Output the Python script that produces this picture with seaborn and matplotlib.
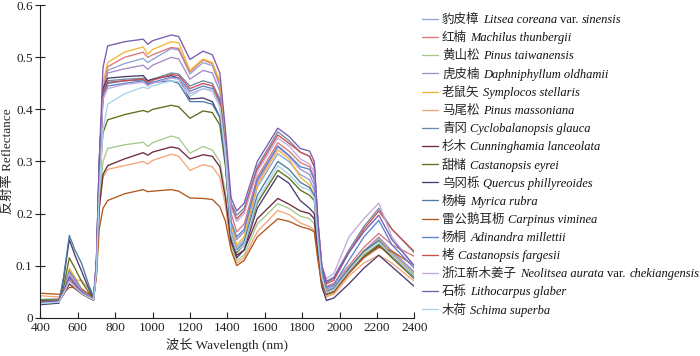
import numpy as np
import pandas as pd
import matplotlib
matplotlib.use("Agg")
import matplotlib.pyplot as plt
import seaborn as sns

wavelength = [400, 500, 525, 555, 585, 620, 660, 685, 700, 715, 735, 760, 850, 950, 975, 1000,
              1100, 1140, 1200, 1270, 1320, 1360, 1390, 1420, 1450, 1490, 1560, 1670, 1730, 1790,
              1840, 1865, 1885, 1905, 1930, 1970, 2050, 2130, 2210, 2280, 2400]

cn_names = ["豹皮樟", "红楠", "黄山松", "虎皮楠", "老鼠矢", "马尾松", "青冈", "杉木", "甜槠",
            "乌冈栎", "杨梅", "雷公鹅耳枥", "杨桐", "栲", "浙江新木姜子", "石栎", "木荷"]

# scientific names: alternating italic / upright parts
sci_names = [
    ["Litsea coreana", "var.", "sinensis"],
    ["Machilus thunbergii"],
    ["Pinus taiwanensis"],
    ["Daphniphyllum oldhamii"],
    ["Symplocos stellaris"],
    ["Pinus massoniana"],
    ["Cyclobalanopsis glauca"],
    ["Cunninghamia lanceolata"],
    ["Castanopsis eyrei"],
    ["Quercus phillyreoides"],
    ["Myrica rubra"],
    ["Carpinus viminea"],
    ["Adinandra millettii"],
    ["Castanopsis fargesii"],
    ["Neolitsea aurata", "var.", "chekiangensis"],
    ["Lithocarpus glaber"],
    ["Schima superba"],
]

colors = ["#8fa3d9", "#d9777a", "#a6c98a", "#a58ac6", "#f2b632", "#f4a576", "#6f89a8",
          "#6e2b3e", "#5e7018", "#4a3b6e", "#4d7aa0", "#b0581e", "#5b82cc", "#cc5050",
          "#c4a8dc", "#7b5bb0", "#a9d2ec"]

s01 = [0.030, 0.032, 0.050, 0.080, 0.066, 0.050, 0.040, 0.036, 0.10, 0.27, 0.43, 0.475, 0.488, 0.498, 0.490, 0.496, 0.517, 0.514, 0.468, 0.490, 0.484, 0.445, 0.34, 0.17, 0.135, 0.15, 0.25, 0.315, 0.30, 0.275, 0.265, 0.245, 0.15, 0.08, 0.052, 0.058, 0.09, 0.125, 0.152, 0.125, 0.085]
s02 = [0.028, 0.030, 0.046, 0.075, 0.062, 0.048, 0.039, 0.035, 0.10, 0.27, 0.44, 0.482, 0.50, 0.51, 0.50, 0.505, 0.519, 0.517, 0.472, 0.495, 0.488, 0.45, 0.345, 0.20, 0.165, 0.18, 0.27, 0.336, 0.32, 0.298, 0.29, 0.27, 0.17, 0.09, 0.06, 0.066, 0.10, 0.135, 0.162, 0.14, 0.118]
s03 = [0.033, 0.034, 0.048, 0.072, 0.060, 0.047, 0.038, 0.034, 0.09, 0.22, 0.30, 0.325, 0.332, 0.337, 0.329, 0.336, 0.349, 0.345, 0.316, 0.329, 0.322, 0.30, 0.24, 0.14, 0.11, 0.12, 0.18, 0.219, 0.21, 0.195, 0.19, 0.18, 0.12, 0.065, 0.042, 0.048, 0.085, 0.12, 0.142, 0.12, 0.08]
s04 = [0.029, 0.031, 0.050, 0.088, 0.072, 0.053, 0.041, 0.036, 0.10, 0.27, 0.43, 0.47, 0.478, 0.485, 0.477, 0.485, 0.50, 0.497, 0.458, 0.475, 0.47, 0.435, 0.335, 0.18, 0.15, 0.165, 0.26, 0.328, 0.31, 0.285, 0.275, 0.255, 0.16, 0.085, 0.055, 0.061, 0.095, 0.128, 0.155, 0.128, 0.088]
s05 = [0.030, 0.032, 0.053, 0.095, 0.078, 0.056, 0.042, 0.036, 0.10, 0.28, 0.45, 0.49, 0.51, 0.52, 0.506, 0.515, 0.53, 0.528, 0.475, 0.497, 0.49, 0.455, 0.35, 0.18, 0.14, 0.155, 0.255, 0.322, 0.305, 0.27, 0.255, 0.235, 0.15, 0.08, 0.05, 0.056, 0.09, 0.125, 0.15, 0.122, 0.082]
s06 = [0.042, 0.040, 0.050, 0.070, 0.072, 0.072, 0.055, 0.040, 0.09, 0.21, 0.27, 0.285, 0.292, 0.30, 0.295, 0.302, 0.314, 0.31, 0.283, 0.294, 0.29, 0.27, 0.215, 0.13, 0.105, 0.115, 0.165, 0.206, 0.198, 0.182, 0.175, 0.168, 0.11, 0.06, 0.04, 0.045, 0.08, 0.105, 0.12, 0.105, 0.07]
s07 = [0.035, 0.036, 0.055, 0.090, 0.074, 0.055, 0.043, 0.038, 0.10, 0.27, 0.43, 0.455, 0.458, 0.46, 0.455, 0.458, 0.47, 0.468, 0.445, 0.455, 0.45, 0.42, 0.33, 0.22, 0.197, 0.21, 0.29, 0.357, 0.34, 0.318, 0.31, 0.29, 0.18, 0.10, 0.07, 0.078, 0.13, 0.175, 0.21, 0.17, 0.125]
s08 = [0.030, 0.032, 0.045, 0.065, 0.056, 0.046, 0.038, 0.034, 0.085, 0.21, 0.275, 0.292, 0.305, 0.317, 0.312, 0.318, 0.328, 0.325, 0.305, 0.313, 0.31, 0.29, 0.23, 0.145, 0.12, 0.13, 0.19, 0.229, 0.218, 0.205, 0.2, 0.19, 0.12, 0.068, 0.045, 0.05, 0.09, 0.118, 0.138, 0.118, 0.08]
s09 = [0.033, 0.034, 0.060, 0.115, 0.095, 0.070, 0.048, 0.038, 0.10, 0.25, 0.355, 0.38, 0.39, 0.398, 0.395, 0.40, 0.408, 0.405, 0.383, 0.397, 0.394, 0.37, 0.29, 0.16, 0.125, 0.14, 0.22, 0.283, 0.268, 0.245, 0.235, 0.225, 0.14, 0.075, 0.045, 0.05, 0.088, 0.118, 0.14, 0.115, 0.075]
s10 = [0.025, 0.028, 0.075, 0.150, 0.120, 0.090, 0.055, 0.036, 0.11, 0.30, 0.44, 0.46, 0.463, 0.465, 0.455, 0.458, 0.465, 0.46, 0.42, 0.422, 0.415, 0.385, 0.30, 0.15, 0.115, 0.13, 0.21, 0.273, 0.258, 0.225, 0.21, 0.2, 0.12, 0.06, 0.033, 0.038, 0.065, 0.095, 0.12, 0.098, 0.06]
s11 = [0.027, 0.030, 0.080, 0.158, 0.130, 0.105, 0.062, 0.040, 0.11, 0.30, 0.43, 0.45, 0.455, 0.457, 0.448, 0.452, 0.455, 0.45, 0.415, 0.415, 0.41, 0.385, 0.30, 0.16, 0.13, 0.145, 0.235, 0.30, 0.285, 0.26, 0.25, 0.235, 0.145, 0.078, 0.05, 0.056, 0.095, 0.128, 0.148, 0.12, 0.078]
s12 = [0.047, 0.045, 0.048, 0.058, 0.058, 0.055, 0.045, 0.038, 0.08, 0.17, 0.21, 0.225, 0.238, 0.246, 0.242, 0.243, 0.246, 0.243, 0.23, 0.229, 0.227, 0.213, 0.185, 0.13, 0.10, 0.11, 0.155, 0.19, 0.185, 0.175, 0.17, 0.165, 0.11, 0.065, 0.045, 0.05, 0.085, 0.115, 0.135, 0.128, 0.10]
s13 = [0.028, 0.030, 0.052, 0.082, 0.068, 0.051, 0.040, 0.036, 0.10, 0.27, 0.42, 0.445, 0.45, 0.455, 0.45, 0.452, 0.462, 0.46, 0.435, 0.445, 0.44, 0.41, 0.32, 0.185, 0.155, 0.17, 0.265, 0.33, 0.312, 0.29, 0.285, 0.265, 0.165, 0.09, 0.058, 0.064, 0.11, 0.155, 0.187, 0.14, 0.095]
s14 = [0.030, 0.032, 0.047, 0.072, 0.060, 0.047, 0.039, 0.035, 0.10, 0.27, 0.43, 0.452, 0.455, 0.458, 0.452, 0.456, 0.467, 0.465, 0.44, 0.45, 0.445, 0.415, 0.325, 0.215, 0.19, 0.205, 0.285, 0.351, 0.335, 0.318, 0.31, 0.29, 0.18, 0.10, 0.065, 0.072, 0.125, 0.17, 0.205, 0.17, 0.127]
s15 = [0.029, 0.031, 0.052, 0.085, 0.069, 0.052, 0.041, 0.036, 0.10, 0.27, 0.42, 0.44, 0.448, 0.452, 0.445, 0.45, 0.46, 0.458, 0.43, 0.44, 0.435, 0.405, 0.32, 0.21, 0.185, 0.20, 0.28, 0.345, 0.33, 0.305, 0.295, 0.28, 0.18, 0.10, 0.075, 0.085, 0.155, 0.19, 0.22, 0.155, 0.098]
s16 = [0.030, 0.032, 0.052, 0.078, 0.065, 0.050, 0.040, 0.036, 0.11, 0.30, 0.48, 0.522, 0.53, 0.535, 0.525, 0.532, 0.543, 0.54, 0.496, 0.512, 0.505, 0.47, 0.36, 0.23, 0.205, 0.22, 0.30, 0.364, 0.348, 0.325, 0.32, 0.30, 0.185, 0.10, 0.068, 0.076, 0.125, 0.165, 0.197, 0.15, 0.10]
s17 = [0.027, 0.030, 0.047, 0.070, 0.059, 0.047, 0.039, 0.035, 0.09, 0.24, 0.36, 0.41, 0.43, 0.443, 0.44, 0.445, 0.455, 0.453, 0.425, 0.44, 0.438, 0.405, 0.31, 0.16, 0.128, 0.14, 0.225, 0.292, 0.275, 0.252, 0.245, 0.23, 0.145, 0.078, 0.048, 0.054, 0.09, 0.122, 0.145, 0.12, 0.08]

series = [s01, s02, s03, s04, s05, s06, s07, s08, s09, s10, s11, s12, s13, s14, s15, s16, s17]

sns.set_theme(style="ticks")
plt.rcParams["font.family"] = ["Liberation Serif", "Noto Sans CJK SC"]
plt.rcParams["axes.unicode_minus"] = False

rows = []
for name, vals in zip(cn_names, series):
    for w, v in zip(wavelength, vals):
        rows.append({"wl": w, "refl": v, "species": name})
df = pd.DataFrame(rows)

fig = plt.figure(figsize=(7.0, 3.56), dpi=100)
ax = fig.add_axes([0.0576, 0.1076, 0.5343, 0.8775])
sns.lineplot(data=df, x="wl", y="refl", hue="species", hue_order=cn_names,
             palette=dict(zip(cn_names, colors)), estimator=None, sort=False,
             linewidth=0.95, ax=ax, legend=True)

ax.set_xlim(400, 2400)
ax.set_ylim(0, 0.6)
ax.set_xticks(range(400, 2401, 200))
ax.set_yticks([0, 0.1, 0.2, 0.3, 0.4, 0.5, 0.6])
ax.set_yticklabels(["0", "0.1", "0.2", "0.3", "0.4", "0.5", "0.6"])
ax.tick_params(axis="x", direction="in", length=4, width=0.8, labelsize=9.5, colors="#222222", pad=3)
ax.tick_params(axis="y", direction="inout", length=7, width=0.8, labelsize=9.5, colors="#222222", pad=2)
for s in ["top", "right"]:
    ax.spines[s].set_visible(False)
for s in ["left", "bottom"]:
    ax.spines[s].set_linewidth(0.8)
    ax.spines[s].set_color("#222222")

ax.set_xlabel("波长 Wavelength (nm)", fontsize=9.5, labelpad=3)
ax.set_ylabel("反射率 Reflectance", fontsize=9.5)
ax.yaxis.set_label_coords(-0.072, 0.5)

handles, _ = ax.get_legend_handles_labels()
leg = ax.legend(handles=handles, labels=cn_names, loc="upper left",
                bbox_to_anchor=(422 / 700, 1 - 14 / 356), bbox_transform=fig.transFigure,
                frameon=False, fontsize=9, handlelength=1.3, handletextpad=0.3,
                labelspacing=0.485, borderpad=0, borderaxespad=0)
leg.set_zorder(5)

for txt, parts in zip(leg.get_texts(), sci_names):
    prev = txt
    for i, p in enumerate(parts):
        style = "italic" if i % 2 == 0 else "normal"
        prev = ax.annotate(p, xy=(1, 0), xycoords=prev, xytext=(2.4, 0),
                           textcoords="offset points", va="bottom", ha="left",
                           fontsize=9, fontstyle=style, family="Liberation Serif",
                           color="#111111", annotation_clip=False, zorder=10)

fig.savefig("out.png", dpi=100)
